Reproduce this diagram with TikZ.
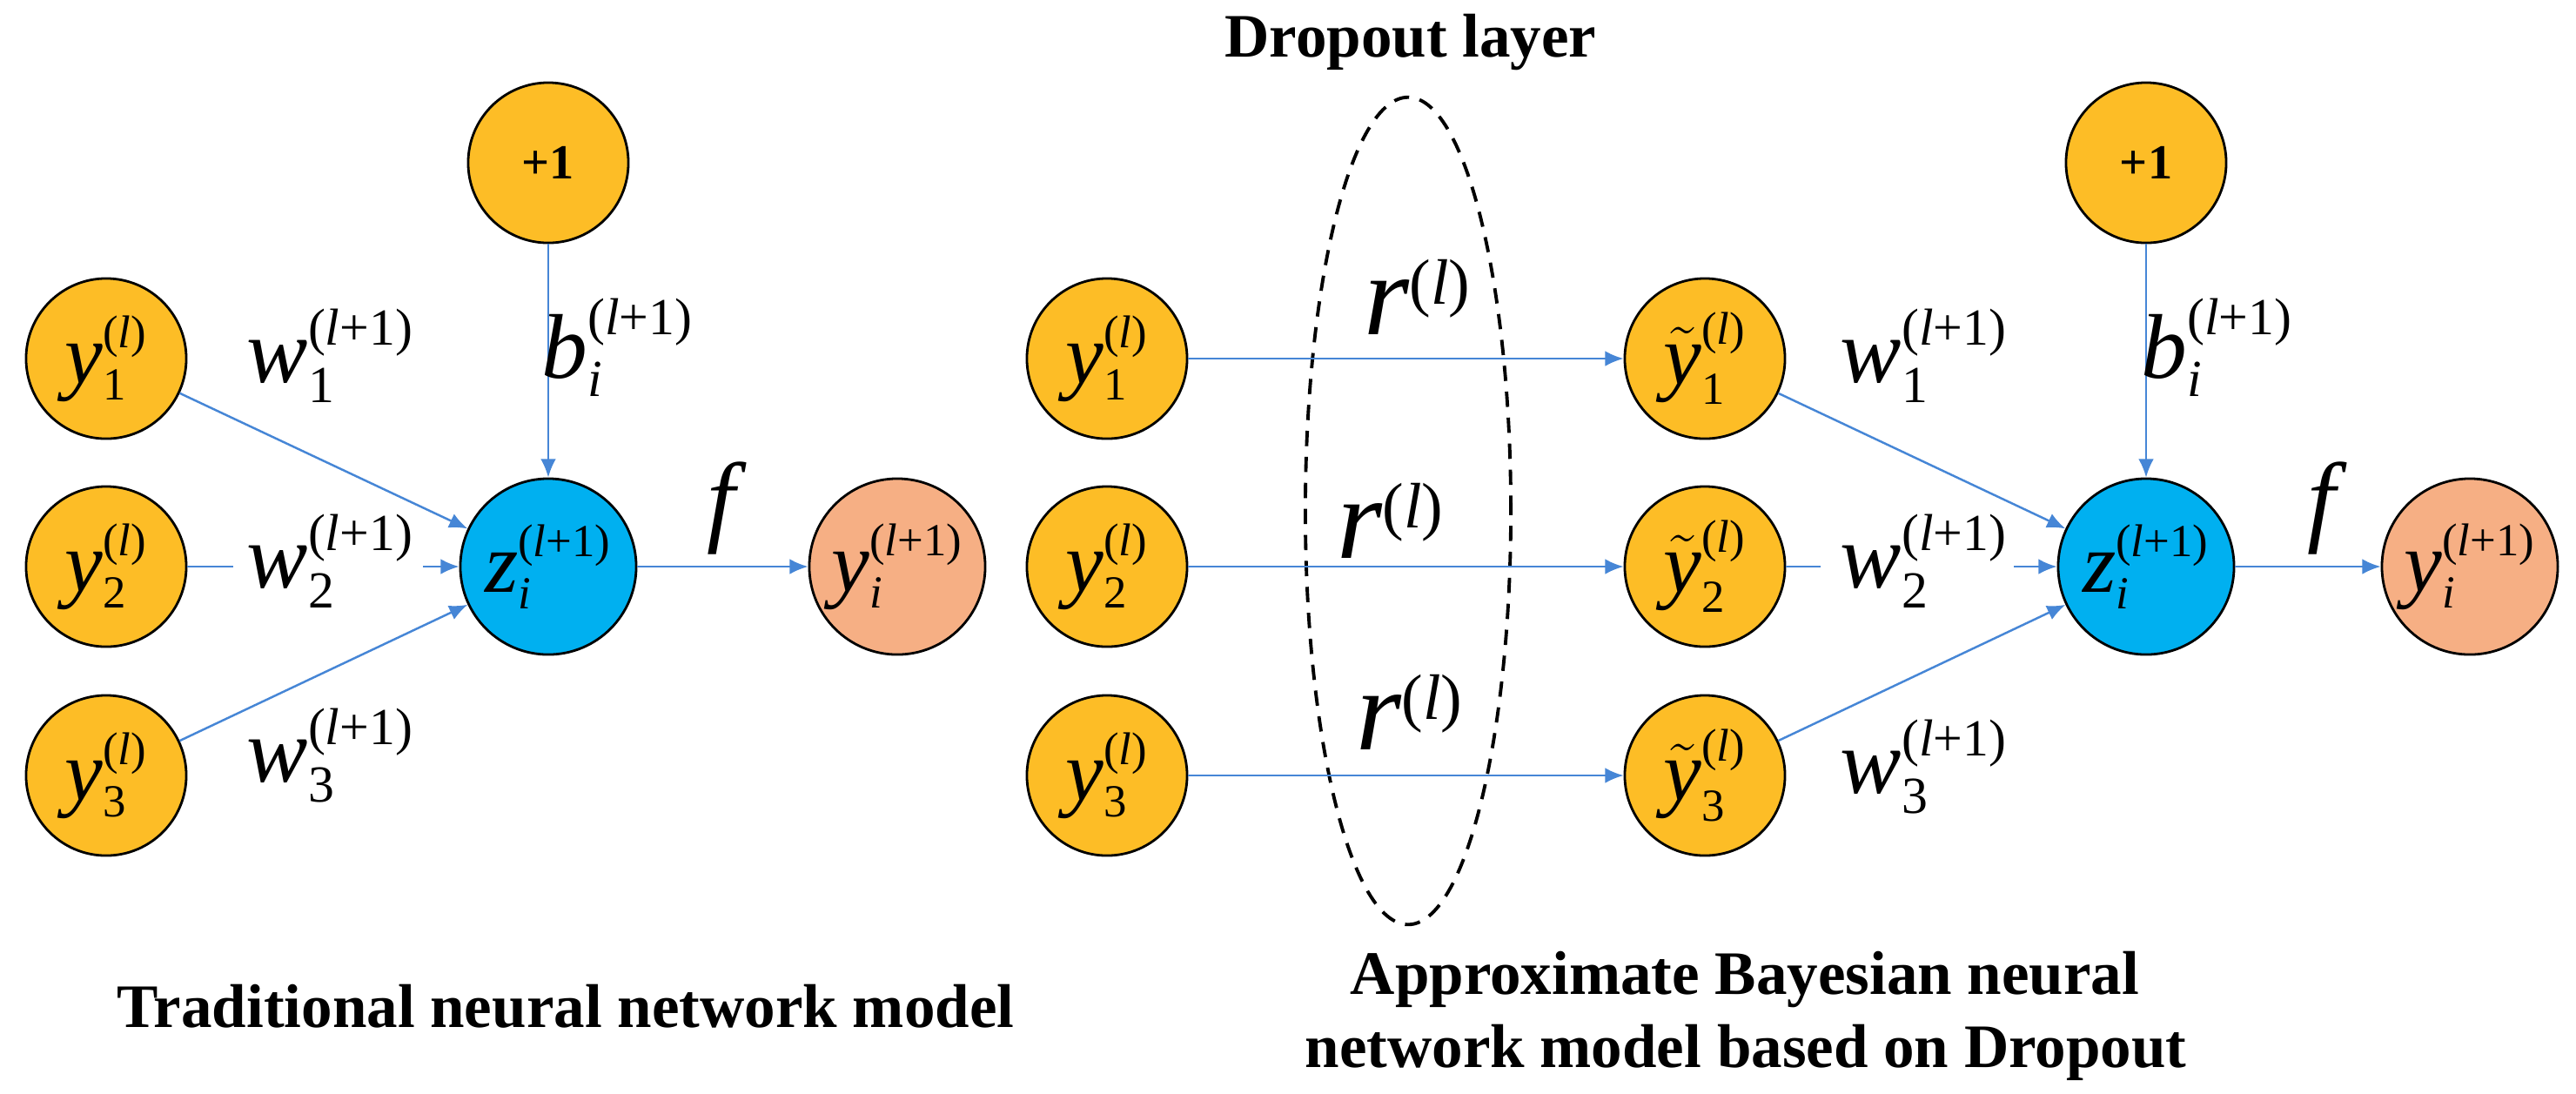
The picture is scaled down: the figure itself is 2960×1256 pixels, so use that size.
\documentclass[tikz,border=0pt]{standalone}
\usepackage{amsmath}
\usepackage{fontspec}
\setmainfont{Liberation Serif}
\newfontfamily\tmi{Liberation Serif Italic}
\usetikzlibrary{arrows.meta,shapes.geometric}
\DeclareMathSizes{30}{30}{17}{12}
\DeclareMathSizes{28}{28}{15}{11}
\DeclareMathSizes{38}{38}{21}{15}
\definecolor{nyellow}{RGB}{253,189,38}
\definecolor{nblue}{RGB}{0,176,240}
\definecolor{nsalmon}{RGB}{246,175,132}
\definecolor{lblue}{RGB}{70,134,214}
\newcommand\iv[1]{\text{\tmi #1}}
\newcommand\lpo{\text{(\iv{l}+1)}}
\newcommand\lpl{\text{(\iv{l})}}
\begin{document}
\begin{tikzpicture}[x=0.01cm,y=-0.01cm,
  neuron/.style={circle,draw=black,line width=0.8pt,inner sep=0pt,minimum size=1.84cm,
    font=\fontsize{28}{28}\selectfont},
  inp/.style={neuron,fill=nyellow},
  sumn/.style={neuron,fill=nblue,minimum size=2.02cm},
  outn/.style={neuron,fill=nsalmon,minimum size=2.02cm},
  con/.style={draw=lblue,line width=0.7pt},
  arr/.style={con,-{Latex[length=6pt,width=5pt]}},
  wlab/.style={anchor=base west,inner sep=0pt,font=\fontsize{30}{30}\selectfont},
  rlab/.style={anchor=base west,inner sep=0pt,font=\fontsize{38}{38}\selectfont},
  captxt/.style={anchor=base,inner sep=0pt,font=\fontsize{20.2}{24}\selectfont\bfseries},
  onelab/.style={font=\fontsize{16}{16}\selectfont\bfseries}]
\fill[white] (0,0) rectangle (2960,1256);
\useasboundingbox (0,0) rectangle (2960,1256);

% ---------- left network ----------
\node[inp] (y1L) at (122,412) {$\iv{y}^{\lpl}_{\text{1}}$};
\node[inp] (y2L) at (122,651) {$\iv{y}^{\lpl}_{\text{2}}$};
\node[inp] (y3L) at (122,891) {$\iv{y}^{\lpl}_{\text{3}}$};
\node[inp,onelab] (oneL) at (630,187) {+1};
\node[sumn] (zL) at (630,651) {$\iv{z}^{\lpo}_{\iv{i}}$};
\node[outn] (outL) at (1031,651) {$\iv{y}^{\lpo}_{\iv{i}}$};

\coordinate (g2aL) at (268,651);
\coordinate (g2bL) at (486,651);
\draw[arr] (y1L) -- (zL);
\draw[con] (y2L) -- (g2aL);
\draw[arr] (g2bL) -- (zL);
\draw[arr] (y3L) -- (zL);
\draw[arr] (oneL) -- (zL);
\draw[arr] (zL) -- (outL);

\node[wlab] (w1L) at (283,439) {$\iv{w}^{\lpo}_{\text{1}}$};
\node[wlab] (w2L) at (283,675) {$\iv{w}^{\lpo}_{\text{2}}$};
\node[wlab] (w3L) at (283,898) {$\iv{w}^{\lpo}_{\text{3}}$};
\node[wlab] (bL) at (622,434) {$\iv{b}^{\lpo}_{\iv{i}}$};
\node[wlab,font=\fontsize{33}{33}\selectfont] (fL) at (812,612) {\tmi f};

% ---------- dropout network ----------
\node[inp] (yA1) at (1272,412) {$\iv{y}^{\lpl}_{\text{1}}$};
\node[inp] (yA2) at (1272,651) {$\iv{y}^{\lpl}_{\text{2}}$};
\node[inp] (yA3) at (1272,891) {$\iv{y}^{\lpl}_{\text{3}}$};
\node[draw=black,line width=1.1pt,dash pattern=on 5pt off 3.5pt,ellipse,
  minimum width=2.36cm,minimum height=9.5cm,inner sep=0pt] (drop) at (1618,587) {};

\node[inp] (yt1) at (1959,412) {$\tilde{\iv{y}}^{\lpl}_{\text{1}}$};
\node[inp] (yt2) at (1959,651) {$\tilde{\iv{y}}^{\lpl}_{\text{2}}$};
\node[inp] (yt3) at (1959,891) {$\tilde{\iv{y}}^{\lpl}_{\text{3}}$};
\node[inp,onelab] (oneR) at (2466,187) {+1};
\node[sumn] (zR) at (2466,651) {$\iv{z}^{\lpo}_{\iv{i}}$};
\node[outn] (outR) at (2838,651) {$\iv{y}^{\lpo}_{\iv{i}}$};

\draw[arr] (yA1) -- (yt1);
\draw[arr] (yA2) -- (yt2);
\draw[arr] (yA3) -- (yt3);

\node[rlab] (r1) at (1567,384) {$\iv{r}^{\lpl}$};
\node[rlab] (r2) at (1536,641) {$\iv{r}^{\lpl}$};
\node[rlab] (r3) at (1558,861) {$\iv{r}^{\lpl}$};

\coordinate (g2aR) at (2092,651);
\coordinate (g2bR) at (2314,651);
\draw[arr] (yt1) -- (zR);
\draw[con] (yt2) -- (g2aR);
\draw[arr] (g2bR) -- (zR);
\draw[arr] (yt3) -- (zR);
\draw[arr] (oneR) -- (zR);
\draw[arr] (zR) -- (outR);

\node[wlab] (w1R) at (2114,439) {$\iv{w}^{\lpo}_{\text{1}}$};
\node[wlab] (w2R) at (2114,675) {$\iv{w}^{\lpo}_{\text{2}}$};
\node[wlab] (w3R) at (2114,911) {$\iv{w}^{\lpo}_{\text{3}}$};
\node[wlab] (bR) at (2460,434) {$\iv{b}^{\lpo}_{\iv{i}}$};
\node[wlab,font=\fontsize{33}{33}\selectfont] (fR) at (2651,612) {\tmi f};

% ---------- captions ----------
\node[captxt] (tdrop) at (1621,65) {Dropout layer};
\node[captxt,anchor=base west] (tleft) at (134,1180) {Traditional neural network model};
\node[captxt] (tright1) at (2005,1142) {Approximate Bayesian neural};
\node[captxt] (tright2) at (2006,1226) {network model based on Dropout};
\end{tikzpicture}
\end{document}
